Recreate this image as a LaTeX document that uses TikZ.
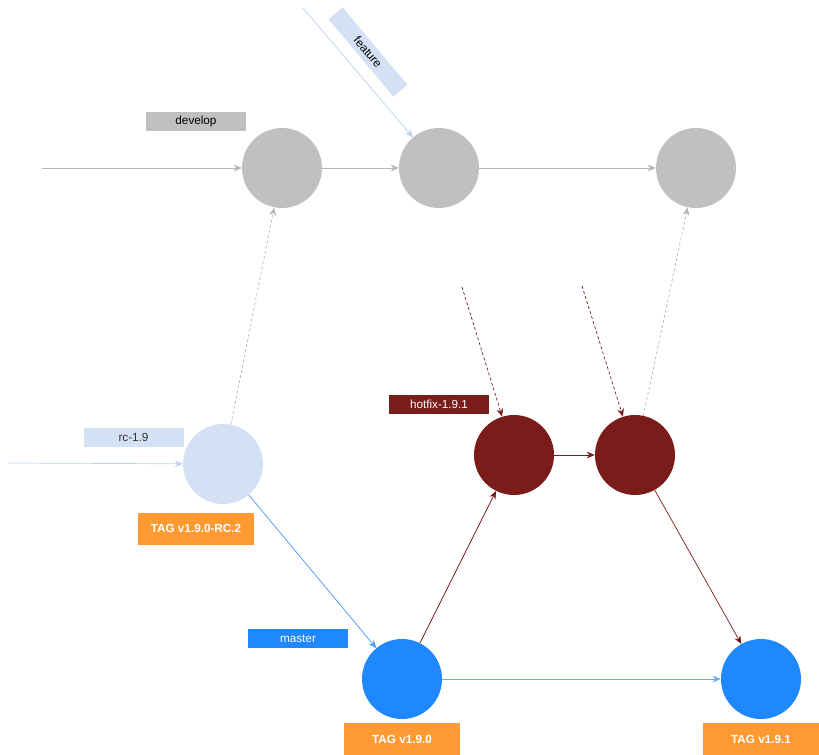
\documentclass[tikz,border=0pt]{standalone}
\usepackage{fontspec}
\setmainfont{Liberation Sans}
\usetikzlibrary{arrows.meta, positioning}
\definecolor{devgray}{HTML}{C0C0C0}
\definecolor{devline}{HTML}{B5B5B5}
\definecolor{rcblue}{HTML}{D4E1F5}
\definecolor{rcline}{HTML}{B9D0F0}
\definecolor{fixred}{HTML}{7A1C1A}
\definecolor{mainblue}{HTML}{1F88FE}
\definecolor{mainline}{HTML}{4596F5}
\definecolor{tagorange}{HTML}{FF9A33}

\begin{document}
\begin{tikzpicture}[
    x=0.3mm, y=-0.3mm,
    every node/.style={font=\fontsize{10}{12}\selectfont},
    commit/.style={circle, minimum size=24mm, inner sep=0pt},
    branch/.style={minimum width=30mm, minimum height=5.7mm, inner sep=0pt},
    tag/.style={fill=tagorange, text=white, font=\fontsize{10}{12}\selectfont\bfseries,
                minimum width=34.8mm, minimum height=9.6mm, inner sep=0pt},
    arr/.style={-{Stealth[length=2.4mm, width=2mm]}, line width=0.6pt},
    dsh/.style={dash pattern=on 2.5pt off 2pt},
]
\useasboundingbox (0,0) rectangle (819,755);

% commits
\node[commit, fill=devgray]   (d1) at (282,168) {};
\node[commit, fill=devgray]   (d2) at (439,168) {};
\node[commit, fill=devgray]   (d3) at (696,168) {};
\node[commit, fill=rcblue]    (rc) at (223,464) {};
\node[commit, fill=fixred]    (h1) at (514,455) {};
\node[commit, fill=fixred]    (h2) at (635,455) {};
\node[commit, fill=mainblue]  (m1) at (402,679) {};
\node[commit, fill=mainblue]  (m2) at (761,679) {};

% branch names
\node[branch, fill=devgray]               (devlbl) at (196,121.5) {develop};
\node[branch, fill=rcblue, text=black!80] (rclbl)  at (133.5,437.5) {rc-1.9};
\node[branch, fill=fixred, text=white]    (fixlbl) at (439,404.5) {hotfix-1.9.1};
\node[branch, fill=mainblue, text=white]  (mainlbl) at (298,638.5) {master};
\node[branch, fill=rcblue, minimum width=30.3mm, minimum height=5.5mm,
      rotate=-50]                         (featlbl) at (368,52) {feature};

% tags
\node[tag]                      (tagrc) at (196,528.5) {TAG v1.9.0-RC.2};
\node[tag, below=1.2mm of m1]   (tag190) {TAG v1.9.0};
\node[tag, below=1.2mm of m2]   (tag191) {TAG v1.9.1};

% loose ends
\coordinate (devin)  at (42,168);
\coordinate (rcin)   at (8,463);
\coordinate (featin) at (303,8);
\coordinate (fixa)   at (462,287);
\coordinate (fixb)   at (582,286);

% develop
\draw[arr, devline] (devin) -- (d1);
\draw[arr, devline] (d1) -- (d2);
\draw[arr, devline] (d2) -- (d3);
\draw[arr, rcline] (featin) -- (d2);
\draw[arr, devline, dsh] (rc) -- (d1);
\draw[arr, devline, dsh] (h2) -- (d3);

% release / master
\draw[arr, rcline] (rcin) -- (rc);
\draw[arr, mainline] (rc) -- (m1);
\draw[arr, mainline!80] (m1) -- (m2);

% hotfix
\draw[arr, fixred, dsh] (fixa) -- (h1);
\draw[arr, fixred, dsh] (fixb) -- (h2);
\draw[arr, fixred] (m1) -- (h1);
\draw[arr, fixred] (h1) -- (h2);
\draw[arr, fixred] (h2) -- (m2);
\end{tikzpicture}
\end{document}
